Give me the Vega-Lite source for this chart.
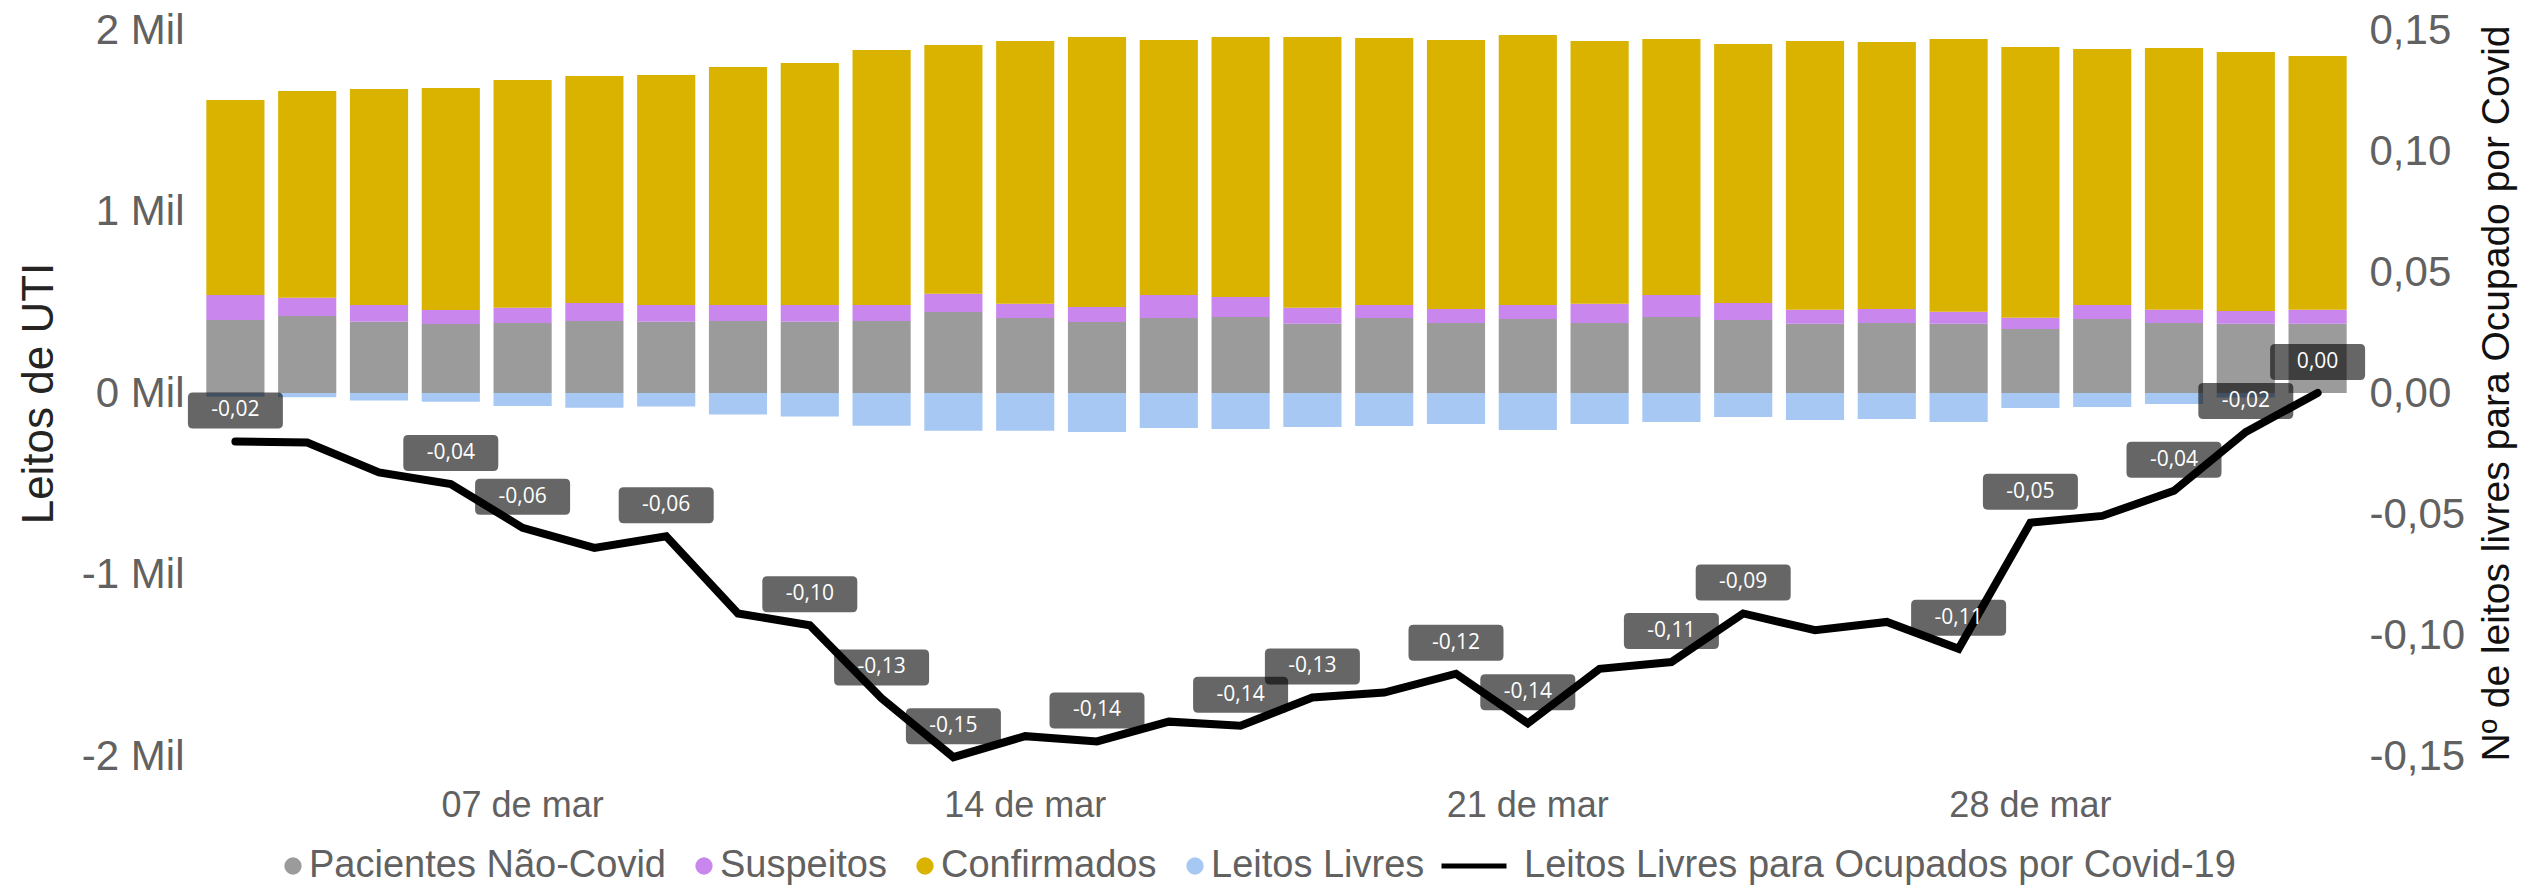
{
  "$schema": "https://vega.github.io/schema/vega-lite/v6.json",
  "width": 2153,
  "height": 726,
  "autosize": {"type": "none"},
  "padding": {"left": 200, "top": 30, "right": 193, "bottom": 130},
  "background": "white",
  "datasets": {
    "leitos": [
      {"dia": "2021-03-03", "categoria": "Pacientes Não-Covid", "valor": 402}, {"dia": "2021-03-03", "categoria": "Suspeitos", "valor": 138}, {"dia": "2021-03-03", "categoria": "Confirmados", "valor": 1074}, {"dia": "2021-03-03", "categoria": "Leitos Livres", "valor": -20},
      {"dia": "2021-03-04", "categoria": "Pacientes Não-Covid", "valor": 424}, {"dia": "2021-03-04", "categoria": "Suspeitos", "valor": 101}, {"dia": "2021-03-04", "categoria": "Confirmados", "valor": 1139}, {"dia": "2021-03-04", "categoria": "Leitos Livres", "valor": -24},
      {"dia": "2021-03-05", "categoria": "Pacientes Não-Covid", "valor": 393}, {"dia": "2021-03-05", "categoria": "Suspeitos", "valor": 92}, {"dia": "2021-03-05", "categoria": "Confirmados", "valor": 1190}, {"dia": "2021-03-05", "categoria": "Leitos Livres", "valor": -42},
      {"dia": "2021-03-06", "categoria": "Pacientes Não-Covid", "valor": 380}, {"dia": "2021-03-06", "categoria": "Suspeitos", "valor": 77}, {"dia": "2021-03-06", "categoria": "Confirmados", "valor": 1223}, {"dia": "2021-03-06", "categoria": "Leitos Livres", "valor": -48},
      {"dia": "2021-03-07", "categoria": "Pacientes Não-Covid", "valor": 386}, {"dia": "2021-03-07", "categoria": "Suspeitos", "valor": 84}, {"dia": "2021-03-07", "categoria": "Confirmados", "valor": 1255}, {"dia": "2021-03-07", "categoria": "Leitos Livres", "valor": -72},
      {"dia": "2021-03-08", "categoria": "Pacientes Não-Covid", "valor": 397}, {"dia": "2021-03-08", "categoria": "Suspeitos", "valor": 99}, {"dia": "2021-03-08", "categoria": "Confirmados", "valor": 1251}, {"dia": "2021-03-08", "categoria": "Leitos Livres", "valor": -81},
      {"dia": "2021-03-09", "categoria": "Pacientes Não-Covid", "valor": 393}, {"dia": "2021-03-09", "categoria": "Suspeitos", "valor": 92}, {"dia": "2021-03-09", "categoria": "Confirmados", "valor": 1267}, {"dia": "2021-03-09", "categoria": "Leitos Livres", "valor": -75},
      {"dia": "2021-03-10", "categoria": "Pacientes Não-Covid", "valor": 397}, {"dia": "2021-03-10", "categoria": "Suspeitos", "valor": 88}, {"dia": "2021-03-10", "categoria": "Confirmados", "valor": 1311}, {"dia": "2021-03-10", "categoria": "Leitos Livres", "valor": -119},
      {"dia": "2021-03-11", "categoria": "Pacientes Não-Covid", "valor": 393}, {"dia": "2021-03-11", "categoria": "Suspeitos", "valor": 92}, {"dia": "2021-03-11", "categoria": "Confirmados", "valor": 1333}, {"dia": "2021-03-11", "categoria": "Leitos Livres", "valor": -130},
      {"dia": "2021-03-12", "categoria": "Pacientes Não-Covid", "valor": 397}, {"dia": "2021-03-12", "categoria": "Suspeitos", "valor": 88}, {"dia": "2021-03-12", "categoria": "Confirmados", "valor": 1405}, {"dia": "2021-03-12", "categoria": "Leitos Livres", "valor": -180},
      {"dia": "2021-03-13", "categoria": "Pacientes Não-Covid", "valor": 446}, {"dia": "2021-03-13", "categoria": "Suspeitos", "valor": 101}, {"dia": "2021-03-13", "categoria": "Confirmados", "valor": 1370}, {"dia": "2021-03-13", "categoria": "Leitos Livres", "valor": -208},
      {"dia": "2021-03-14", "categoria": "Pacientes Não-Covid", "valor": 413}, {"dia": "2021-03-14", "categoria": "Suspeitos", "valor": 79}, {"dia": "2021-03-14", "categoria": "Confirmados", "valor": 1447}, {"dia": "2021-03-14", "categoria": "Leitos Livres", "valor": -208},
      {"dia": "2021-03-15", "categoria": "Pacientes Não-Covid", "valor": 391}, {"dia": "2021-03-15", "categoria": "Suspeitos", "valor": 83}, {"dia": "2021-03-15", "categoria": "Confirmados", "valor": 1487}, {"dia": "2021-03-15", "categoria": "Leitos Livres", "valor": -215},
      {"dia": "2021-03-16", "categoria": "Pacientes Não-Covid", "valor": 413}, {"dia": "2021-03-16", "categoria": "Suspeitos", "valor": 127}, {"dia": "2021-03-16", "categoria": "Confirmados", "valor": 1405}, {"dia": "2021-03-16", "categoria": "Leitos Livres", "valor": -193},
      {"dia": "2021-03-17", "categoria": "Pacientes Não-Covid", "valor": 419}, {"dia": "2021-03-17", "categoria": "Suspeitos", "valor": 110}, {"dia": "2021-03-17", "categoria": "Confirmados", "valor": 1432}, {"dia": "2021-03-17", "categoria": "Leitos Livres", "valor": -198},
      {"dia": "2021-03-18", "categoria": "Pacientes Não-Covid", "valor": 382}, {"dia": "2021-03-18", "categoria": "Suspeitos", "valor": 88}, {"dia": "2021-03-18", "categoria": "Confirmados", "valor": 1491}, {"dia": "2021-03-18", "categoria": "Leitos Livres", "valor": -187},
      {"dia": "2021-03-19", "categoria": "Pacientes Não-Covid", "valor": 413}, {"dia": "2021-03-19", "categoria": "Suspeitos", "valor": 72}, {"dia": "2021-03-19", "categoria": "Confirmados", "valor": 1471}, {"dia": "2021-03-19", "categoria": "Leitos Livres", "valor": -182},
      {"dia": "2021-03-20", "categoria": "Pacientes Não-Covid", "valor": 386}, {"dia": "2021-03-20", "categoria": "Suspeitos", "valor": 77}, {"dia": "2021-03-20", "categoria": "Confirmados", "valor": 1482}, {"dia": "2021-03-20", "categoria": "Leitos Livres", "valor": -171},
      {"dia": "2021-03-21", "categoria": "Pacientes Não-Covid", "valor": 408}, {"dia": "2021-03-21", "categoria": "Suspeitos", "valor": 77}, {"dia": "2021-03-21", "categoria": "Confirmados", "valor": 1487}, {"dia": "2021-03-21", "categoria": "Leitos Livres", "valor": -204},
      {"dia": "2021-03-22", "categoria": "Pacientes Não-Covid", "valor": 386}, {"dia": "2021-03-22", "categoria": "Suspeitos", "valor": 106}, {"dia": "2021-03-22", "categoria": "Confirmados", "valor": 1447}, {"dia": "2021-03-22", "categoria": "Leitos Livres", "valor": -171},
      {"dia": "2021-03-23", "categoria": "Pacientes Não-Covid", "valor": 419}, {"dia": "2021-03-23", "categoria": "Suspeitos", "valor": 121}, {"dia": "2021-03-23", "categoria": "Confirmados", "valor": 1410}, {"dia": "2021-03-23", "categoria": "Leitos Livres", "valor": -160},
      {"dia": "2021-03-24", "categoria": "Pacientes Não-Covid", "valor": 402}, {"dia": "2021-03-24", "categoria": "Suspeitos", "valor": 94}, {"dia": "2021-03-24", "categoria": "Confirmados", "valor": 1427}, {"dia": "2021-03-24", "categoria": "Leitos Livres", "valor": -132},
      {"dia": "2021-03-25", "categoria": "Pacientes Não-Covid", "valor": 382}, {"dia": "2021-03-25", "categoria": "Suspeitos", "valor": 77}, {"dia": "2021-03-25", "categoria": "Confirmados", "valor": 1480}, {"dia": "2021-03-25", "categoria": "Leitos Livres", "valor": -149},
      {"dia": "2021-03-26", "categoria": "Pacientes Não-Covid", "valor": 386}, {"dia": "2021-03-26", "categoria": "Suspeitos", "valor": 77}, {"dia": "2021-03-26", "categoria": "Confirmados", "valor": 1471}, {"dia": "2021-03-26", "categoria": "Leitos Livres", "valor": -143},
      {"dia": "2021-03-27", "categoria": "Pacientes Não-Covid", "valor": 382}, {"dia": "2021-03-27", "categoria": "Suspeitos", "valor": 66}, {"dia": "2021-03-27", "categoria": "Confirmados", "valor": 1502}, {"dia": "2021-03-27", "categoria": "Leitos Livres", "valor": -160},
      {"dia": "2021-03-28", "categoria": "Pacientes Não-Covid", "valor": 353}, {"dia": "2021-03-28", "categoria": "Suspeitos", "valor": 62}, {"dia": "2021-03-28", "categoria": "Confirmados", "valor": 1491}, {"dia": "2021-03-28", "categoria": "Leitos Livres", "valor": -83},
      {"dia": "2021-03-29", "categoria": "Pacientes Não-Covid", "valor": 408}, {"dia": "2021-03-29", "categoria": "Suspeitos", "valor": 77}, {"dia": "2021-03-29", "categoria": "Confirmados", "valor": 1410}, {"dia": "2021-03-29", "categoria": "Leitos Livres", "valor": -77},
      {"dia": "2021-03-30", "categoria": "Pacientes Não-Covid", "valor": 386}, {"dia": "2021-03-30", "categoria": "Suspeitos", "valor": 73}, {"dia": "2021-03-30", "categoria": "Confirmados", "valor": 1442}, {"dia": "2021-03-30", "categoria": "Leitos Livres", "valor": -61},
      {"dia": "2021-03-31", "categoria": "Pacientes Não-Covid", "valor": 382}, {"dia": "2021-03-31", "categoria": "Suspeitos", "valor": 70}, {"dia": "2021-03-31", "categoria": "Confirmados", "valor": 1427}, {"dia": "2021-03-31", "categoria": "Leitos Livres", "valor": -25},
      {"dia": "2021-04-01", "categoria": "Pacientes Não-Covid", "valor": 382}, {"dia": "2021-04-01", "categoria": "Suspeitos", "valor": 77}, {"dia": "2021-04-01", "categoria": "Confirmados", "valor": 1398}, {"dia": "2021-04-01", "categoria": "Leitos Livres", "valor": 0}
    ],
    "razao": [
      {"dia": "2021-03-03", "razao": -0.0200, "rotulo": true},
      {"dia": "2021-03-04", "razao": -0.0205, "rotulo": false},
      {"dia": "2021-03-05", "razao": -0.0328, "rotulo": false},
      {"dia": "2021-03-06", "razao": -0.0376, "rotulo": true},
      {"dia": "2021-03-07", "razao": -0.0557, "rotulo": true},
      {"dia": "2021-03-08", "razao": -0.0640, "rotulo": false},
      {"dia": "2021-03-09", "razao": -0.0592, "rotulo": true},
      {"dia": "2021-03-10", "razao": -0.0911, "rotulo": false},
      {"dia": "2021-03-11", "razao": -0.0960, "rotulo": true},
      {"dia": "2021-03-12", "razao": -0.1262, "rotulo": true},
      {"dia": "2021-03-13", "razao": -0.1505, "rotulo": true},
      {"dia": "2021-03-14", "razao": -0.1418, "rotulo": false},
      {"dia": "2021-03-15", "razao": -0.1440, "rotulo": true},
      {"dia": "2021-03-16", "razao": -0.1358, "rotulo": false},
      {"dia": "2021-03-17", "razao": -0.1375, "rotulo": true},
      {"dia": "2021-03-18", "razao": -0.1258, "rotulo": true},
      {"dia": "2021-03-19", "razao": -0.1238, "rotulo": false},
      {"dia": "2021-03-20", "razao": -0.1160, "rotulo": true},
      {"dia": "2021-03-21", "razao": -0.1365, "rotulo": true},
      {"dia": "2021-03-22", "razao": -0.1140, "rotulo": false},
      {"dia": "2021-03-23", "razao": -0.1112, "rotulo": true},
      {"dia": "2021-03-24", "razao": -0.0911, "rotulo": true},
      {"dia": "2021-03-25", "razao": -0.0980, "rotulo": false},
      {"dia": "2021-03-26", "razao": -0.0946, "rotulo": false},
      {"dia": "2021-03-27", "razao": -0.1057, "rotulo": true},
      {"dia": "2021-03-28", "razao": -0.0536, "rotulo": true},
      {"dia": "2021-03-29", "razao": -0.0508, "rotulo": false},
      {"dia": "2021-03-30", "razao": -0.0404, "rotulo": true},
      {"dia": "2021-03-31", "razao": -0.0161, "rotulo": true},
      {"dia": "2021-04-01", "razao": 0, "rotulo": true}
    ]
  },
  "layer": [
    {
      "data": {"name": "leitos"},
      "transform": [
        {"calculate": "indexof(['Pacientes Não-Covid','Suspeitos','Confirmados','Leitos Livres'], datum.categoria)", "as": "ordem"}
      ],
      "mark": {"type": "bar"},
      "encoding": {
        "x": {
          "field": "dia", "type": "ordinal",
          "scale": {"paddingInner": 0.19, "paddingOuter": 0.088},
          "axis": {
            "title": null,
            "values": ["2021-03-07", "2021-03-14", "2021-03-21", "2021-03-28"],
            "labelExpr": "utcFormat(toDate(datum.value), '%d de %b')",
            "labelAngle": 0, "labelFont": "Liberation Sans", "labelFontSize": 36, "labelColor": "#616161",
            "labelPadding": 32, "ticks": false, "tickSize": 0, "domain": false, "grid": false
          }
        },
        "y": {
          "field": "valor", "type": "quantitative", "stack": "zero",
          "scale": {"domain": [-2000, 2000], "nice": false},
          "axis": {
            "title": "Leitos de UTI", "titleFont": "Liberation Sans", "titleFontSize": 44, "titleFontWeight": "normal",
            "titleColor": "#252423", "titlePadding": 20,
            "values": [-2000, -1000, 0, 1000, 2000],
            "labelExpr": "(datum.value / 1000) + ' Mil'",
            "labelFont": "Liberation Sans", "labelFontSize": 42, "labelColor": "#616161", "labelPadding": 16,
            "ticks": false, "tickSize": 0, "domain": false, "grid": false
          }
        },
        "color": {
          "field": "categoria", "type": "nominal",
          "scale": {
            "domain": ["Pacientes Não-Covid", "Suspeitos", "Confirmados", "Leitos Livres"],
            "range": ["#9B9B9B", "#C987EE", "#D9B300", "#A7C8F3"]
          },
          "legend": {
            "orient": "none", "direction": "horizontal", "legendX": 74, "legendY": 817, "title": null,
            "symbolType": "circle", "symbolSize": 300, "symbolStrokeWidth": 0,
            "labelFont": "Liberation Sans", "labelFontSize": 38, "labelColor": "#616161",
            "labelOffset": -3, "columnPadding": 19, "labelLimit": 1000
          }
        },
        "order": {"field": "ordem", "type": "quantitative"}
      }
    },
    {
      "data": {"name": "razao"},
      "encoding": {
        "x": {"field": "dia", "type": "ordinal"},
        "y": {
          "field": "razao", "type": "quantitative",
          "scale": {"domain": [-0.15, 0.15], "nice": false, "zero": false},
          "axis": {
            "orient": "right",
            "title": "Nº de leitos livres para Ocupado por Covid",
            "titleFont": "Liberation Sans", "titleFontSize": 39, "titleFontWeight": "normal", "titleColor": "#111111",
            "titleAngle": 270, "titleBaseline": "top", "titlePadding": 13,
            "values": [-0.15, -0.1, -0.05, 0, 0.05, 0.1, 0.15],
            "format": ".2f",
            "labelFont": "Liberation Sans", "labelFontSize": 42, "labelColor": "#616161", "labelPadding": 16,
            "ticks": false, "tickSize": 0, "domain": false, "grid": false
          }
        }
      },
      "layer": [
        {
          "mark": {"type": "line", "strokeWidth": 8, "strokeCap": "round"},
          "encoding": {
            "stroke": {
              "datum": "Leitos Livres para Ocupados por Covid-19",
              "scale": {"range": ["#000000"]},
              "legend": {
                "orient": "none", "legendX": 1239, "legendY": 801, "title": null,
                "symbolType": "stroke", "symbolSize": 4225, "symbolStrokeWidth": 5,
                "labelFont": "Liberation Sans", "labelFontSize": 38, "labelColor": "#616161",
                "labelOffset": 15, "labelLimit": 1000
              }
            }
          }
        },
        {
          "transform": [{"filter": "datum.rotulo"}],
          "mark": {
            "type": "point",
            "shape": "M -0.85 -0.98 L 0.85 -0.98 Q 0.95 -0.98 0.95 -0.88 L 0.95 -0.36 Q 0.95 -0.26 0.85 -0.26 L -0.85 -0.26 Q -0.95 -0.26 -0.95 -0.36 L -0.95 -0.88 Q -0.95 -0.98 -0.85 -0.98 Z",
            "size": 10000, "filled": true, "fill": "#000000", "opacity": 0.6, "strokeWidth": 0
          }
        },
        {
          "transform": [{"filter": "datum.rotulo"}],
          "mark": {"type": "text", "dy": -31, "fontSize": 21, "font": "Open Sans", "color": "#FFFFFF", "align": "center", "baseline": "middle"},
          "encoding": {"text": {"field": "razao", "type": "quantitative", "format": ".2f"}}
        }
      ]
    }
  ],
  "resolve": {"scale": {"y": "independent"}},
  "config": {
    "view": {"stroke": null},
    "locale": {
      "number": {"decimal": ",", "thousands": ".", "grouping": [3], "currency": ["R$", ""], "minus": "-"},
      "time": {
        "dateTime": "%A, %e de %B de %Y. %X",
        "date": "%d/%m/%Y",
        "time": "%H:%M:%S",
        "periods": ["AM", "PM"],
        "days": ["Domingo", "Segunda", "Terça", "Quarta", "Quinta", "Sexta", "Sábado"],
        "shortDays": ["Dom", "Seg", "Ter", "Qua", "Qui", "Sex", "Sáb"],
        "months": ["Janeiro", "Fevereiro", "Março", "Abril", "Maio", "Junho", "Julho", "Agosto", "Setembro", "Outubro", "Novembro", "Dezembro"],
        "shortMonths": ["jan", "fev", "mar", "abr", "mai", "jun", "jul", "ago", "set", "out", "nov", "dez"]
      }
    }
  }
}
